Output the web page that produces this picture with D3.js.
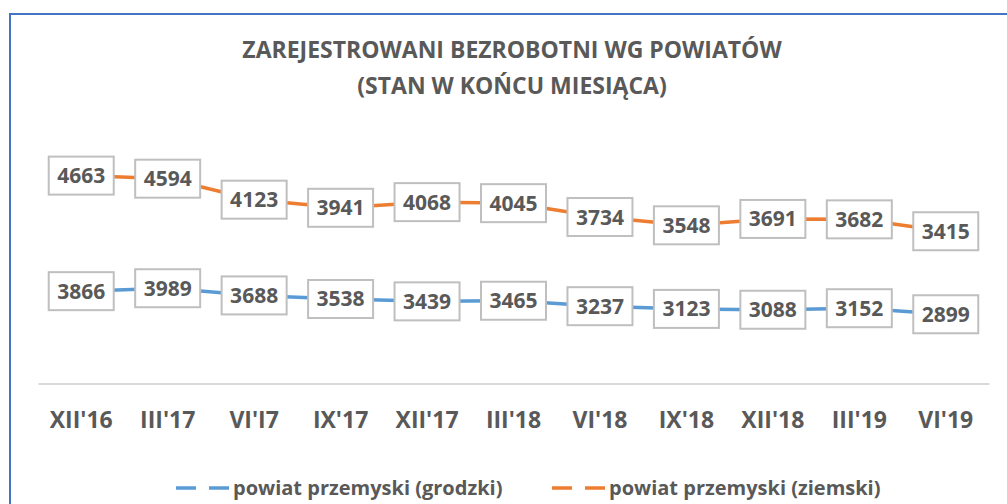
<!DOCTYPE html>
<html>
<head>
<meta charset="utf-8">
<script src="https://cdn.jsdelivr.net/npm/d3@7"></script>
<style>
  body { margin: 0; background: #fff; }
  text { font-family: "Open Sans", Lato, sans-serif; font-weight: bold; fill: #595959; }
</style>
</head>
<body>
<div id="chart"></div>
<script>
// months (quarter ends)
const categories = ["XII'16", "III'17", "VI'I7", "IX'17", "XII'17", "III'18", "VI'18", "IX'18", "XII'18", "III'19", "VI'19"];
const grodzki = [3866, 3989, 3688, 3538, 3439, 3465, 3237, 3123, 3088, 3152, 2899];
const ziemski = [4663, 4594, 4123, 3941, 4068, 4045, 3734, 3548, 3691, 3682, 3415];
const titleLines = ["ZAREJESTROWANI BEZROBOTNI WG POWIATÓW", "(STAN W KOŃCU MIESIĄCA)"];

const W = 1007, H = 504;
const plot = {left: 38, right: 989, top: 116, bottom: 383.5};

const svg = d3.select("#chart").append("svg")
    .attr("width", W)
    .attr("height", H);

// chart frame (only top and left edge are visible in the crop)
svg.append("path")
    .attr("d", `M10,${H + 5} L10,14 L${W + 5},14`)
    .attr("fill", "none")
    .attr("stroke", "#4472C4")
    .attr("stroke-width", 2);

// title
svg.append("g").selectAll("text")
    .data(titleLines)
    .enter()
    .append("text")
    .attr("x", 512)
    .attr("y", (d, i) => 58 + i * 36)
    .attr("text-anchor", "middle")
    .style("font-size", "23px")
    .text(d => d);

const x = d3.scaleBand()
    .domain(categories)
    .range([plot.left, plot.right]);

// two hidden value axes (primary for grodzki, secondary for ziemski)
const yG = d3.scaleLinear().domain([0, 11200]).range([plot.bottom, plot.top]);
const yZ = d3.scaleLinear().domain([0, 6000]).range([plot.bottom, plot.top]);

const xAxis = svg.append("g")
    .attr("transform", `translate(0,${plot.bottom})`)
    .call(d3.axisBottom(x).tickSize(0).tickPadding(28));
xAxis.select(".domain").attr("stroke", "#D9D9D9").attr("stroke-width", 2);
xAxis.selectAll(".tick text")
    .style("font-size", "23px")
    .style("font-family", "'Open Sans', sans-serif")
    .attr("fill", "#595959");

const cx = d => x(d) + x.bandwidth() / 2;

const series = [
    {name: "powiat przemyski (grodzki)", values: grodzki, y: yG, color: "#5B9BD5"},
    {name: "powiat przemyski (ziemski)", values: ziemski, y: yZ, color: "#ED7D31"}
];

series.forEach(s => {
    const line = d3.line()
        .x((d, i) => cx(categories[i]))
        .y(d => s.y(d));

    svg.append("path")
        .datum(s.values)
        .attr("fill", "none")
        .attr("stroke", s.color)
        .attr("stroke-width", 3.5)
        .attr("d", line);

    // data labels in boxes
    const lab = svg.append("g").selectAll("g")
        .data(s.values)
        .enter()
        .append("g")
        .attr("transform", (d, i) => `translate(${cx(categories[i])},${s.y(d)})`);

    lab.append("rect")
        .attr("x", -32.5)
        .attr("y", -19)
        .attr("width", 65)
        .attr("height", 38)
        .attr("fill", "#fff")
        .attr("stroke", "#BFBFBF")
        .attr("stroke-width", 2);

    lab.append("text")
        .attr("text-anchor", "middle")
        .attr("y", 7.5)
        .style("font-size", "21px")
        .text(d => d);
});

// legend
const legend = svg.append("g").selectAll("g")
    .data(series)
    .enter()
    .append("g")
    .attr("transform", (d, i) => `translate(${176 + i * 376},488)`);

legend.append("line")
    .attr("x1", 0).attr("x2", 53)
    .attr("y1", 0).attr("y2", 0)
    .attr("stroke", d => d.color)
    .attr("stroke-width", 3.5)
    .attr("stroke-dasharray", "20,13");

legend.append("text")
    .attr("x", 57)
    .attr("y", 7)
    .style("font-size", "20px")
    .text(d => d.name);
</script>
</body>
</html>
